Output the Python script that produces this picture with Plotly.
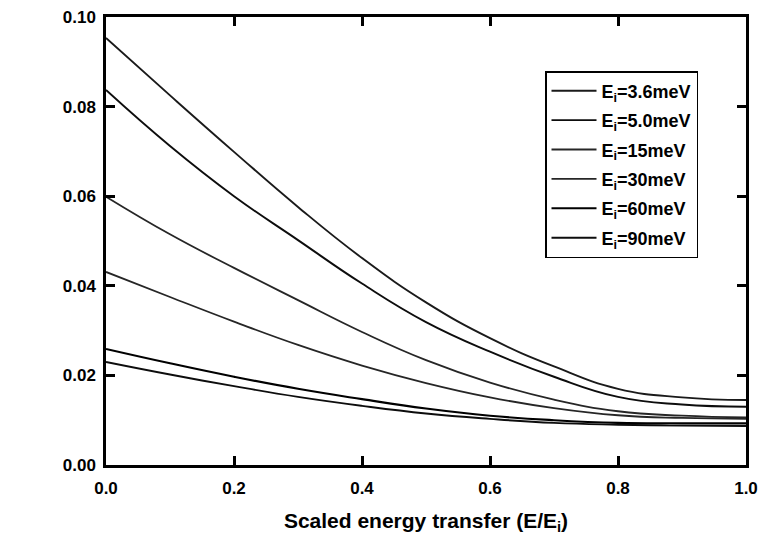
import plotly.graph_objects as go

x_vals = [0.0, 0.1, 0.2, 0.3, 0.4, 0.5, 0.6, 0.7, 0.8, 0.9, 1.0]

y_36 = [0.0953, 0.0825, 0.0699, 0.0576, 0.0462, 0.0363, 0.0283, 0.0220, 0.0170, 0.0151, 0.0145]
y_50 = [0.0837, 0.0712, 0.0600, 0.0502, 0.0405, 0.0319, 0.0253, 0.0197, 0.0152, 0.0135, 0.0130]
y_15 = [0.0599, 0.0515, 0.0440, 0.0368, 0.0297, 0.0234, 0.0184, 0.0146, 0.0120, 0.0110, 0.0106]
y_30 = [0.0431, 0.0375, 0.0320, 0.0268, 0.0222, 0.0183, 0.0151, 0.0127, 0.0111, 0.0105, 0.0103]
y_60 = [0.0259, 0.0227, 0.0197, 0.0170, 0.0147, 0.0126, 0.0110, 0.0100, 0.0094, 0.0093, 0.0093]
y_90 = [0.0230, 0.0202, 0.0176, 0.0152, 0.0132, 0.0115, 0.0103, 0.0094, 0.0090, 0.0088, 0.0087]

series_names = ["E<sub>i</sub>=3.6meV", "E<sub>i</sub>=5.0meV", "E<sub>i</sub>=15meV",
                "E<sub>i</sub>=30meV", "E<sub>i</sub>=60meV", "E<sub>i</sub>=90meV"]
series_values = [y_36, y_50, y_15, y_30, y_60, y_90]
series_colors = ["#1a1a1a", "#0d0d0d", "#262626", "#262626", "#000000", "#0d0d0d"]
series_widths = [1.9, 1.9, 1.8, 1.8, 2.1, 1.9]

x_tick_vals = [0.0, 0.2, 0.4, 0.6, 0.8, 1.0]
y_tick_vals = [0.00, 0.02, 0.04, 0.06, 0.08, 0.10]

fig = go.Figure()
for i, (name, vals) in enumerate(zip(series_names, series_values)):
    fig.add_trace(go.Scatter(
        x=x_vals, y=vals, mode="lines", name=name,
        legendgroup=f"g{i}",
        line=dict(color=series_colors[i], width=series_widths[i], shape="spline", smoothing=1.3),
    ))

font_family = "Liberation Sans, Arial, Helvetica, sans-serif"

L, R, T, B = 106, 12, 17, 70
plot_w = 758 - L - R
plot_h = 535 - T - B

fig.update_layout(
    width=758, height=535,
    margin=dict(l=L, r=R, t=T, b=B, autoexpand=False),
    paper_bgcolor="white", plot_bgcolor="white",
    font=dict(family=font_family, color="black"),
    showlegend=True,
    legend=dict(
        x=(545 - L) / plot_w, y=(465 - 71) / plot_h,
        xanchor="left", yanchor="top",
        bordercolor="black", borderwidth=1.5, bgcolor="white",
        font=dict(family=font_family, size=18, weight="bold", color="black"),
        traceorder="grouped", tracegroupgap=3,
        itemwidth=45,
    ),
    xaxis=dict(
        range=[0, 1], tickvals=x_tick_vals, tickformat=".1f",
        showgrid=False, zeroline=False, automargin=False,
        showline=True, linecolor="black", linewidth=2.5, mirror="ticks",
        ticks="inside", ticklen=9, tickwidth=2.5, tickcolor="black",
        tickfont=dict(family=font_family, size=17, weight="bold", color="black"),
        ticklabelstandoff=6,
        title=dict(text="Scaled energy transfer (E/E<sub>i</sub>)",
                   font=dict(family=font_family, size=21, weight="bold", color="black"),
                   standoff=17),
    ),
    yaxis=dict(
        range=[0, 0.1], tickvals=y_tick_vals, tickformat=".2f",
        showgrid=False, zeroline=False, automargin=False,
        showline=True, linecolor="black", linewidth=2.5, mirror="ticks",
        ticks="inside", ticklen=9, tickwidth=2.5, tickcolor="black",
        tickfont=dict(family=font_family, size=17, weight="bold", color="black"),
        ticklabelstandoff=4,
    ),
)

fig.write_html(
    "out.html",
    config={"displayModeBar": False},
    post_script="document.body.style.margin='0';document.body.style.overflow='hidden';",
)
